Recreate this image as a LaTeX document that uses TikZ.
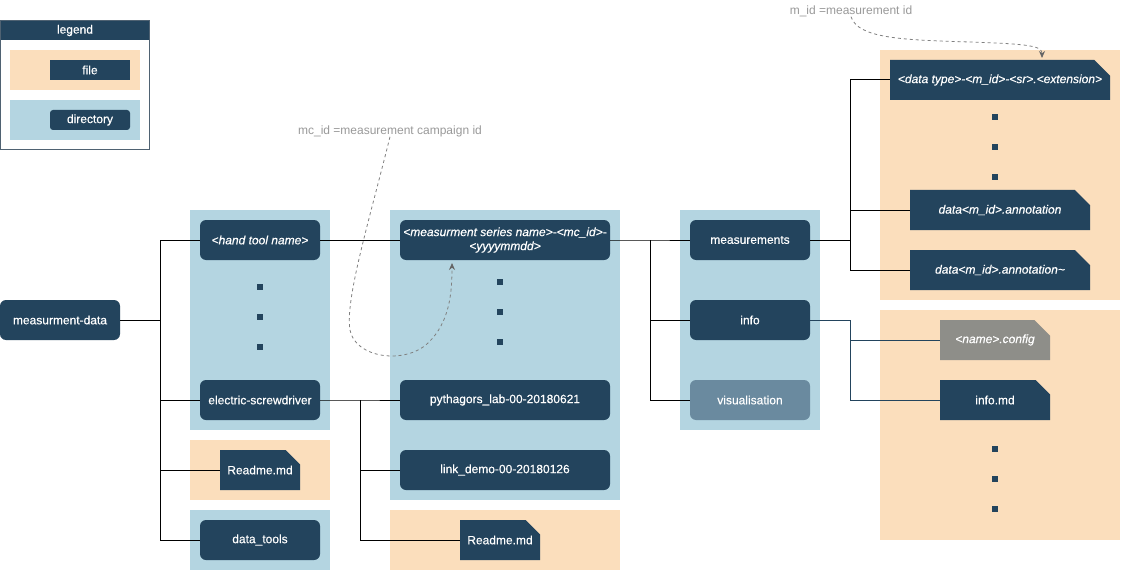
\documentclass[tikz,border=0pt]{standalone}
\usepackage{fontspec}
\setmainfont{Liberation Sans}
\newfontfamily\nodefont[FakeBold=0.35]{Liberation Sans}
\usetikzlibrary{shapes.misc,arrows.meta,calc}
\definecolor{navy}{HTML}{23445D}
\definecolor{peach}{HTML}{FBDEBC}
\definecolor{lblue}{HTML}{B4D5E1}
\definecolor{visgray}{HTML}{6A8A9F}
\definecolor{cfggray}{HTML}{8E8E89}
\definecolor{frameline}{HTML}{4F6272}
\definecolor{annotgray}{HTML}{999999}
\definecolor{dashgray}{HTML}{808080}
\definecolor{tipgray}{HTML}{666666}
\begin{document}
\begin{tikzpicture}[x=1pt,y=-1pt,
  every node/.style={font=\nodefont\fontsize{12}{14}\selectfont, text=white, inner sep=0pt},
  italic/.style={font=\nodefont\fontsize{12}{14}\selectfont\itshape},
  dirbox/.style={fill=navy, rounded corners=6pt, minimum width=120pt, minimum height=40pt},
  filebox/.style={fill=navy, chamfered rectangle, chamfered rectangle corners=north east,
    chamfered rectangle xsep=10pt, chamfered rectangle ysep=10pt, minimum height=40pt},
  conn/.style={draw=black, line width=1pt},
  conninfo/.style={draw=navy, line width=1pt},
  annot/.style={text=annotgray, font=\rmfamily\fontsize{12}{14}\selectfont},
  dashline/.style={draw=dashgray, line width=0.8pt, dash pattern=on 3pt off 3pt,
    -{Stealth[length=7pt,width=6pt,color=tipgray,fill=tipgray]}},
  dotsq/.style={fill=navy}
]
\useasboundingbox (0,0) rectangle (1121,572);
\fill[white] (0,0) rectangle (1121,572);

% ---------- legend ----------
\fill[navy] (0,20) rectangle (150,40);
\draw[frameline, line width=1pt] (0.5,20.5) rectangle (149.5,149.5);
\node (lt) at (75,30.5) {legend};
\fill[peach] (10,50) rectangle (140,90);
\fill[lblue] (10,100) rectangle (140,140);
\node[fill=navy, minimum width=80pt, minimum height=20pt] (lfile) at (90,70) {file};
\node[fill=navy, rounded corners=3pt, minimum width=80pt, minimum height=20pt] (ldir) at (90,120) {directory};

% ---------- panels ----------
\fill[lblue] (190,210) rectangle (330,430);
\fill[peach] (190,440) rectangle (330,500);
\fill[lblue] (190,510) rectangle (330,570);
\fill[lblue] (390,210) rectangle (620,500);
\fill[peach] (390,510) rectangle (620,570);
\fill[lblue] (680,210) rectangle (820,430);
\fill[peach] (880,50) rectangle (1120,300);
\fill[peach] (880,310) rectangle (1120,540);

% ---------- dots ----------
\foreach \yy in {287,317,347} \fill[dotsq] (257,\yy-3) rectangle (263,\yy+3);
\foreach \yy in {282,312,342} \fill[dotsq] (497,\yy-3) rectangle (503,\yy+3);
\foreach \yy in {117,147,177} \fill[dotsq] (992,\yy-3) rectangle (998,\yy+3);
\foreach \yy in {449,479,509} \fill[dotsq] (992,\yy-3) rectangle (998,\yy+3);

% ---------- nodes ----------
\node[dirbox] (md) at (60,320) {measurment-data};
\node[dirbox, italic] (ht) at (260,240) {<hand tool name>};
\node[dirbox] (es) at (260,400) {electric-screwdriver};
\node[filebox, minimum width=80pt] (rm1) at (260,470) {Readme.md};
\node[dirbox] (dtl) at (260,540) {data\_tools};

\node[dirbox, italic, minimum width=210pt, align=center] (ms) at (505,240)
  {<measurment series name>-<mc\_id>-\\<yyyymmdd>};
\node[dirbox, minimum width=210pt] (py) at (505,400) {pythagors\_lab-00-20180621};
\node[dirbox, minimum width=210pt] (ld) at (505,470) {link\_demo-00-20180126};
\node[filebox, minimum width=80pt] (rm2) at (500,540) {Readme.md};

\node[dirbox] (meas) at (750,240) {measurements};
\node[dirbox] (inf) at (750,320) {info};
\node[dirbox, fill=visgray] (vis) at (750,400) {visualisation};

\node[filebox, italic, minimum width=220pt] (dt) at (1000,80) {<data type>-<m\_id>-<sr>.<extension>};
\node[filebox, italic, minimum width=180pt] (an1) at (1000,210) {data<m\_id>.annotation};
\node[filebox, italic, minimum width=180pt] (an2) at (1000,270) {data<m\_id>.annotation\textasciitilde};
\node[filebox, italic, fill=cfggray, minimum width=110pt] (cfg) at (995,340) {<name>.config};
\node[filebox, minimum width=110pt] (imd) at (995,400) {info.md};

% ---------- junctions ----------
\coordinate (j1) at (160,320);
\coordinate (j2) at (360,400);
\coordinate (j3) at (650,240);
\coordinate (j4) at (850,240);
\coordinate (j5) at (850,320);

% ---------- connectors ----------
\draw[conn] (md.east) -- (j1) |- (ht.west);
\draw[conn] (j1) |- (es.west);
\draw[conn] (j1) |- (rm1.west);
\draw[conn] (j1) |- (dtl.west);

\draw[conn] (ht.east) -- (ms.west);

\draw[conn] (es.east) -- (j2) |- (py.west);
\draw[conn] (j2) |- (ld.west);
\draw[conn] (j2) |- (rm2.west);

\draw[conn] (ms.east) -- (j3) |- (meas.west);
\draw[conn] (j3) |- (inf.west);
\draw[conn] (j3) |- (vis.west);

\draw[conn] (meas.east) -- (j4) |- (dt.west);
\draw[conn] (j4) |- (an1.west);
\draw[conn] (j4) |- (an2.west);

\draw[conninfo] (inf.east) -- (j5) |- (cfg.west);
\draw[conninfo] (j5) |- (imd.west);

% ---------- annotations ----------
\node[annot] (mcn) at (390,131) {mc\_id =measurement campaign id};
\node[annot] (mn) at (851,11) {m\_id =measurement id};
\coordinate (mstip) at (452,263);
\coordinate (dttip) at (1042,58);
\draw[dashline] (mcn.south) .. controls (368,225) and (345,300) .. (350,330)
  .. controls (355,358) and (405,365) .. (428,343)
  .. controls (450,322) and (452,292) .. (mstip);
\draw[dashline] (mn.south) .. controls (858,38) and (900,40) .. (970,42)
  .. controls (1030,44) and (1042,46) .. (dttip);
\end{tikzpicture}
\end{document}
